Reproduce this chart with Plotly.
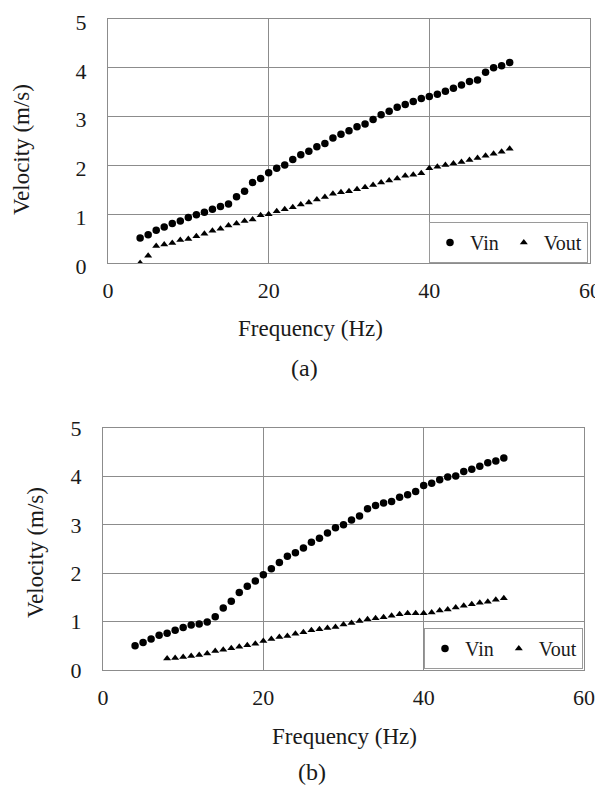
import plotly.graph_objects as go

# ---------------- data ----------------
freq_a_vin = [4, 5, 6, 7, 8, 9, 10, 11, 12, 13, 14, 15, 16, 17, 18, 19, 20, 21, 22, 23, 24, 25, 26, 27,
              28, 29, 30, 31, 32, 33, 34, 35, 36, 37, 38, 39, 40, 41, 42, 43, 44, 45, 46, 47, 48, 49, 50]
vin_a = [0.51, 0.58, 0.67, 0.74, 0.81, 0.86, 0.93, 0.99, 1.04, 1.10, 1.16, 1.21, 1.36, 1.47, 1.65, 1.73,
         1.85, 1.94, 2.01, 2.12, 2.22, 2.29, 2.38, 2.45, 2.56, 2.64, 2.71, 2.79, 2.85, 2.94, 3.04, 3.11,
         3.19, 3.25, 3.31, 3.37, 3.41, 3.46, 3.52, 3.58, 3.65, 3.72, 3.75, 3.91, 4.00, 4.04, 4.11]
freq_a_vout = [4, 5, 6, 7, 8, 9, 10, 11, 12, 13, 14, 15, 16, 17, 18, 19, 20, 21, 22, 23, 24, 25, 26, 27,
               28, 29, 30, 31, 32, 33, 34, 35, 36, 37, 38, 39, 40, 41, 42, 43, 44, 45, 46, 47, 48, 49, 50]
vout_a = [0.00, 0.15, 0.35, 0.38, 0.41, 0.47, 0.49, 0.55, 0.60, 0.66, 0.70, 0.77, 0.81, 0.86, 0.89, 0.98,
          1.00, 1.06, 1.10, 1.14, 1.20, 1.24, 1.30, 1.35, 1.42, 1.45, 1.47, 1.51, 1.55, 1.60, 1.65, 1.69,
          1.73, 1.79, 1.81, 1.84, 1.94, 1.97, 2.01, 2.04, 2.07, 2.11, 2.15, 2.20, 2.24, 2.28, 2.34]

freq_b_vin = [4, 5, 6, 7, 8, 9, 10, 11, 12, 13, 14, 15, 16, 17, 18, 19, 20, 21, 22, 23, 24, 25, 26, 27,
              28, 29, 30, 31, 32, 33, 34, 35, 36, 37, 38, 39, 40, 41, 42, 43, 44, 45, 46, 47, 48, 49, 50]
vin_b = [0.50, 0.57, 0.64, 0.72, 0.76, 0.82, 0.88, 0.93, 0.95, 0.99, 1.10, 1.28, 1.42, 1.60, 1.73, 1.84,
         1.97, 2.09, 2.22, 2.35, 2.42, 2.52, 2.64, 2.72, 2.83, 2.94, 3.00, 3.10, 3.18, 3.33, 3.40, 3.45,
         3.48, 3.57, 3.62, 3.69, 3.81, 3.86, 3.93, 3.99, 4.01, 4.10, 4.15, 4.21, 4.28, 4.32, 4.38]
freq_b_vout = [8, 9, 10, 11, 12, 13, 14, 15, 16, 17, 18, 19, 20, 21, 22, 23, 24, 25, 26, 27, 28, 29,
               30, 31, 32, 33, 34, 35, 36, 37, 38, 39, 40, 41, 42, 43, 44, 45, 46, 47, 48, 49, 50]
vout_b = [0.24, 0.25, 0.27, 0.29, 0.31, 0.34, 0.39, 0.42, 0.45, 0.48, 0.51, 0.54, 0.60, 0.64, 0.68, 0.70,
          0.75, 0.78, 0.82, 0.84, 0.87, 0.89, 0.94, 0.97, 1.01, 1.05, 1.07, 1.09, 1.12, 1.15, 1.17, 1.17,
          1.17, 1.19, 1.23, 1.25, 1.29, 1.33, 1.36, 1.39, 1.41, 1.45, 1.48]

x_ticks = [0, 20, 40, 60]
y_ticks = [0, 1, 2, 3, 4, 5]
x_title = "Frequency (Hz)"
y_title = "Velocity (m/s)"
panel_labels = ["(a)", "(b)"]
series_names = ["Vin", "Vout"]

# ---------------- figure ----------------
# the page body has an 8px margin, so the figure is drawn 8px in from the window corner
OFF = 8
W, H = 603 - OFF, 787 - OFF
FONT = "Liberation Serif"
TXT = "#1a1a1a"
GRID = "#8c8c8c"


def px(v):
    """window x pixel -> paper fraction"""
    return (v - OFF) / W


def py(v):
    """window y pixel (from top) -> paper fraction"""
    return (H - (v - OFF)) / H


fig = go.Figure()

mk_in = dict(symbol="circle", size=7.5, color="black")
mk_out = dict(symbol="triangle-up", size=7, color="black")

fig.add_trace(go.Scatter(x=freq_a_vin, y=vin_a, mode="markers", name=series_names[0],
                         marker=mk_in, xaxis="x", yaxis="y", legend="legend"))
fig.add_trace(go.Scatter(x=freq_a_vout, y=vout_a, mode="markers", name=series_names[1],
                         marker=mk_out, xaxis="x", yaxis="y", legend="legend"))
fig.add_trace(go.Scatter(x=freq_b_vin, y=vin_b, mode="markers", name=series_names[0],
                         marker=mk_in, xaxis="x2", yaxis="y2", legend="legend2"))
fig.add_trace(go.Scatter(x=freq_b_vout, y=vout_b, mode="markers", name=series_names[1],
                         marker=mk_out, xaxis="x2", yaxis="y2", legend="legend2"))

xcommon = dict(range=[0, 60], tickvals=x_ticks, showgrid=True, gridcolor=GRID, gridwidth=1,
               showline=True, linecolor=GRID, linewidth=1, mirror=True, zeroline=False,
               ticks="", tickfont=dict(family=FONT, size=22, color=TXT), ticklabelstandoff=8,
               ticklabeloverflow="allow", automargin=False, fixedrange=True)
ycommon = dict(range=[0, 5], tickvals=y_ticks, showgrid=True, gridcolor=GRID, gridwidth=1,
               showline=True, linecolor=GRID, linewidth=1, mirror=True, zeroline=False,
               ticks="", tickfont=dict(family=FONT, size=22, color=TXT), ticklabelstandoff=16,
               ticklabeloverflow="allow", automargin=False, fixedrange=True)

legcommon = dict(orientation="h", xanchor="right", yanchor="top", bgcolor="white",
                 bordercolor="#9a9a9a", borderwidth=1, font=dict(family=FONT, size=20, color=TXT),
                 itemwidth=30, tracegroupgap=0)

fig.update_layout(
    width=W, height=H,
    margin=dict(l=0, r=0, t=0, b=0, autoexpand=False),
    paper_bgcolor="white", plot_bgcolor="white",
    xaxis=dict(xcommon, domain=[px(108), px(590)], anchor="y"),
    yaxis=dict(ycommon, domain=[py(263), py(19)], anchor="x", ticklabelshift=3),
    xaxis2=dict(xcommon, domain=[px(103), px(584)], anchor="y2"),
    yaxis2=dict(ycommon, domain=[py(670), py(428)], anchor="x2"),
    legend=dict(legcommon, x=px(588), y=py(222)),
    legend2=dict(legcommon, x=px(583), y=py(628)),
    showlegend=True,
)

ann_font = dict(family=FONT, size=23, color=TXT)
annotations = [
    dict(text=x_title, x=px(310), y=py(328), xref="paper", yref="paper",
         showarrow=False, font=ann_font, xanchor="center", yanchor="middle"),
    dict(text=panel_labels[0], x=px(304), y=py(368), xref="paper", yref="paper",
         showarrow=False, font=dict(ann_font, size=24), xanchor="center", yanchor="middle"),
    dict(text=y_title, x=px(22), y=py(150), xref="paper", yref="paper", textangle=-90,
         showarrow=False, font=ann_font, xanchor="center", yanchor="middle"),
    dict(text=x_title, x=px(344), y=py(736), xref="paper", yref="paper",
         showarrow=False, font=ann_font, xanchor="center", yanchor="middle"),
    dict(text=panel_labels[1], x=px(312), y=py(772), xref="paper", yref="paper",
         showarrow=False, font=dict(ann_font, size=24), xanchor="center", yanchor="middle"),
    dict(text=y_title, x=px(35), y=py(553), xref="paper", yref="paper", textangle=-90,
         showarrow=False, font=ann_font, xanchor="center", yanchor="middle"),
]
fig.update_layout(annotations=annotations)

fig.write_html("out.html")
